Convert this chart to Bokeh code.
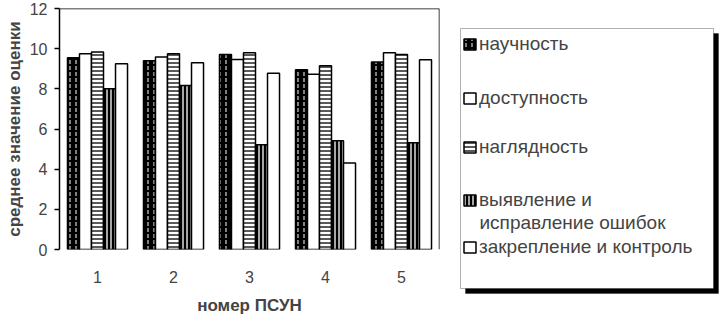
from bokeh.plotting import figure
from bokeh.layouts import row
from bokeh.models import (Legend, LegendItem, FixedTicker, Range1d, Span, Label,
                          BoxAnnotation, ColumnDataSource)
from bokeh.transform import dodge
from bokeh.embed import file_html
from bokeh.resources import INLINE

# ---- data ----
groups = [1, 2, 3, 4, 5]
series_names = ["научность", "доступность", "наглядность",
                "выявление и", "закрепление и контроль"]
series4_second_line = "исправление ошибок"
nauchnost = [9.55, 9.40, 9.71, 8.95, 9.33]
dostupnost = [9.75, 9.58, 9.46, 8.73, 9.80]
naglyadnost = [9.83, 9.75, 9.80, 9.15, 9.71]
vyyavlenie = [8.00, 8.16, 5.22, 5.42, 5.32]
zakreplenie = [9.25, 9.30, 8.78, 4.31, 9.45]
y_ticks = [0, 2, 4, 6, 8, 10, 12]
x_title = "номер ПСУН"
y_title = "среднее значение оценки"

styles = [
    dict(fill_color="black", hatch_pattern=":", hatch_color="white", hatch_scale=6, hatch_weight=1),
    dict(fill_color="white"),
    dict(fill_color="white", hatch_pattern="-", hatch_color="black", hatch_scale=4, hatch_weight=1.3),
    dict(fill_color="black", hatch_pattern="|", hatch_color="white", hatch_scale=4, hatch_weight=1.3),
    dict(fill_color="white"),
]

src = ColumnDataSource(data=dict(x=groups, s0=nauchnost, s1=dostupnost, s2=naglyadnost,
                                 s3=vyyavlenie, s4=zakreplenie))

H = 319
W1 = 457
p = figure(width=W1, height=H, output_backend="svg", toolbar_location=None,
           x_range=Range1d(0.5, 5.5), y_range=Range1d(0, 12),
           min_border_left=59, min_border_right=18,
           min_border_top=8, min_border_bottom=70)
p.outline_line_color = None
p.grid.visible = False

bw = 0.158
renderers = []
for i in range(5):
    r = p.vbar(x=dodge("x", (i - 2) * bw, range=p.x_range), top="s%d" % i, width=bw,
               source=src, line_color="black", line_width=1.5, **styles[i])
    renderers.append(r)

p.add_layout(Span(location=12, dimension="width", line_color="black", line_width=1.5))
p.add_layout(Span(location=5.5, dimension="height", line_color="black", line_width=1.5))

p.xaxis.ticker = FixedTicker(ticks=groups)
p.xaxis.axis_line_color = None
p.xaxis.major_tick_line_color = None
p.xaxis.minor_tick_line_color = None
p.xaxis.major_label_standoff = 15
p.xaxis.major_label_text_font = "Liberation Sans"
p.xaxis.major_label_text_font_size = "16px"
p.xaxis.axis_label = x_title
p.xaxis.axis_label_text_font = "Liberation Sans"
p.xaxis.axis_label_text_font_style = "bold"
p.xaxis.axis_label_text_font_size = "17px"
p.xaxis.axis_label_standoff = 10

p.yaxis.ticker = FixedTicker(ticks=y_ticks)
p.yaxis.minor_tick_line_color = None
p.yaxis.major_tick_in = 0
p.yaxis.major_tick_out = 5
p.yaxis.axis_line_width = 1.5
p.yaxis.major_tick_line_width = 1.5
p.yaxis.major_label_standoff = 7
p.yaxis.major_label_text_font = "Liberation Sans"
p.yaxis.major_label_text_font_size = "16px"
p.yaxis.axis_label = y_title
p.yaxis.axis_label_text_font = "Liberation Sans"
p.yaxis.axis_label_text_font_style = "bold"
p.yaxis.axis_label_text_font_size = "17px"
p.yaxis.axis_label_standoff = 3

# ---- legend panel ----
W2 = 719 - W1
q = figure(width=W2, height=H, output_backend="svg", toolbar_location=None,
           x_range=Range1d(0, W2), y_range=Range1d(H, 0),
           x_axis_type=None, y_axis_type=None, min_border=0)
q.outline_line_color = None
q.grid.visible = False
if "frame_align" in p.properties():
    p.frame_align = False
    q.frame_align = False

q.add_layout(BoxAnnotation(left=8, right=261, top=33, bottom=293,
                           fill_color="black", fill_alpha=1, line_color="black"))
q.add_layout(BoxAnnotation(left=3, right=256, top=28, bottom=288,
                           fill_color="white", fill_alpha=1, line_color="black", line_width=1))

nan = float("nan")
proxy = []
for i in range(5):
    psrc = ColumnDataSource(data=dict(x=[nan], top=[nan]))
    proxy.append(q.vbar(x="x", top="top", width=1, source=psrc,
                        line_color="black", line_width=1.5, **styles[i]))

# one legend per entry (the entries are unevenly spaced in the original)
legend_bottoms = [264, 210, 161, 108, 61]
for i in range(5):
    q.add_layout(Legend(items=[LegendItem(label=series_names[i], renderers=[proxy[i]])],
                        location=(5, legend_bottoms[i]), padding=0, spacing=0, margin=0,
                        border_line_color=None, background_fill_alpha=0,
                        label_text_font="Liberation Sans", label_text_font_size="19px",
                        glyph_width=15, glyph_height=14, label_standoff=2, label_height=20),
                 "center")
q.add_layout(Label(x=22, y=222, text=series4_second_line, text_font="Liberation Sans",
                   text_font_size="19px", text_baseline="middle", text_align="left"))

layout = row(p, q, spacing=0)
open("out.html", "w").write(file_html(layout, INLINE))
